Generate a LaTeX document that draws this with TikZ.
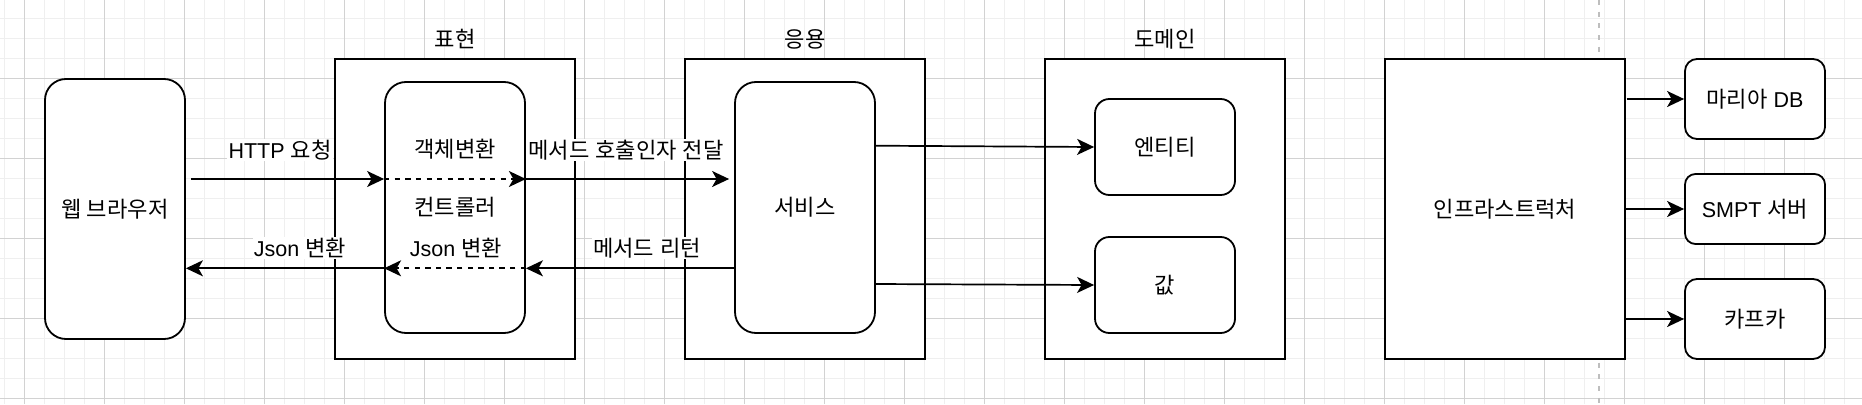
\documentclass[tikz,border=0pt]{standalone}
\usepackage{fontspec}
\setmainfont{Liberation Sans}
\newfontfamily\krf[Scale=1.03]{Noto Sans CJK KR}
\newcommand\kr[1]{{\krf #1}}
\usetikzlibrary{arrows.meta}
\definecolor{gridminor}{HTML}{EFEFEF}
\definecolor{gridmajor}{HTML}{D2D2D2}
\definecolor{pagebreak}{HTML}{BEBEBE}
\begin{document}
\begin{tikzpicture}[x=1pt,y=-1pt,
  every node/.style={font=\fontsize{21.5}{24}\selectfont, inner sep=0pt},
  box/.style={draw=black, fill=white, line width=1.8pt},
  rbox/.style={box, rounded corners=#1},
  arr/.style={line width=1.7pt, -{Stealth[length=17pt,width=16pt,inset=4.5pt]}},
  dsh/.style={arr, dash pattern=on 5.3pt off 5.3pt},
  lbl/.style={fill=white, inner sep=1.2pt},
  minorline/.style={draw=gridminor, line width=1.2pt},
  majorline/.style={draw=gridmajor, line width=1pt},
]
\useasboundingbox (0,0) rectangle (1862,404);
\fill[white] (0,0) rectangle (1862,404);
% grid
\foreach \i in {0,...,93} {\draw[minorline] (4.3+20*\i,0) -- (4.3+20*\i,404);}
\foreach \i in {0,...,19} {\draw[minorline] (0,18.3+20*\i) -- (1862,18.3+20*\i);}
\foreach \i in {0,...,23} {\draw[majorline] (24.3+80*\i,0) -- (24.3+80*\i,404);}
\foreach \i in {0,...,4} {\draw[majorline] (0,78.3+80*\i) -- (1862,78.3+80*\i);}
% page break line
\draw[pagebreak, line width=2pt, dash pattern=on 5pt off 6.7pt] (1599,0) -- (1599,404);

% boxes
\node[rbox=21pt, minimum width=140, minimum height=260] (browser) at (115,209) {\kr{웹 브라우저}};
\node[box, minimum width=240, minimum height=300] (pres) at (455,209) {};
\node[rbox=21pt, minimum width=140, minimum height=251] (ctrl) at (455,207.5) {\kr{컨트롤러}};
\node[box, minimum width=240, minimum height=300] (app) at (805,209) {};
\node[rbox=21pt, minimum width=140, minimum height=251] (svc) at (805,207.5) {\kr{서비스}};
\node[box, minimum width=240, minimum height=300] (dom) at (1165,209) {};
\node[rbox=14.4pt, minimum width=140, minimum height=96] (ent) at (1165,147) {\kr{엔티티}};
\node[rbox=14.4pt, minimum width=140, minimum height=96] (val) at (1165,285) {\kr{값}};
\node[box, minimum width=240, minimum height=300] (infra) at (1505,209) {\kr{인프라스트럭처}};
\node[rbox=12pt, minimum width=140, minimum height=80] (db) at (1755,99) {\kr{마리아} DB};
\node[rbox=10.5pt, minimum width=140, minimum height=70] (smtp) at (1755,209) {SMPT \kr{서버}};
\node[rbox=12pt, minimum width=140, minimum height=80] (kafka) at (1755,319) {\kr{카프카}};

% container titles
\node (tpres) at (455,39) {\kr{표현}};
\node (tapp) at (805,39) {\kr{응용}};
\node (tdom) at (1165,39) {\kr{도메인}};

% request flow
\coordinate (hs) at (191,179);
\draw[arr] (hs) -- (ctrl.west |- hs);
\draw[dsh] (ctrl.west |- hs) -- (ctrl.east |- hs);
\draw[arr, shorten >=5pt] (ctrl.east |- hs) -- (svc.west |- hs);

% response flow
\coordinate (ry) at (805,268.3);
\draw[arr] (svc.west |- ry) -- (ctrl.east |- ry);
\draw[dsh] (ctrl.east |- ry) -- (ctrl.west |- ry);
\draw[arr] (ctrl.west |- ry) -- (browser.east |- ry);

% labels
\node[lbl] (l1) at (280,150) {HTTP \kr{요청}};
\node[lbl] (l2) at (455,149) {\kr{객체변환}};
\node[lbl] (l3) at (626,150) {\kr{메서드} \kr{호출인자} \kr{전달}};
\node[lbl] (l4) at (300,248) {Json \kr{변환}};
\node[lbl] (l5) at (456,248) {Json \kr{변환}};
\node[lbl] (l6) at (647,248) {\kr{메서드} \kr{리턴}};

% domain
\coordinate (se1) at (875,145.7);
\coordinate (se2) at (875,284);
\draw[arr] (se1) -- (ent.west);
\draw[arr] (se2) -- (val.west);

% infrastructure
\coordinate (idb) at (1627,99);
\draw[arr] (idb) -- (db.west);
\draw[arr] (infra.east |- smtp.west) -- (smtp.west);
\draw[arr] (infra.east |- kafka.west) -- (kafka.west);
\end{tikzpicture}
\end{document}
